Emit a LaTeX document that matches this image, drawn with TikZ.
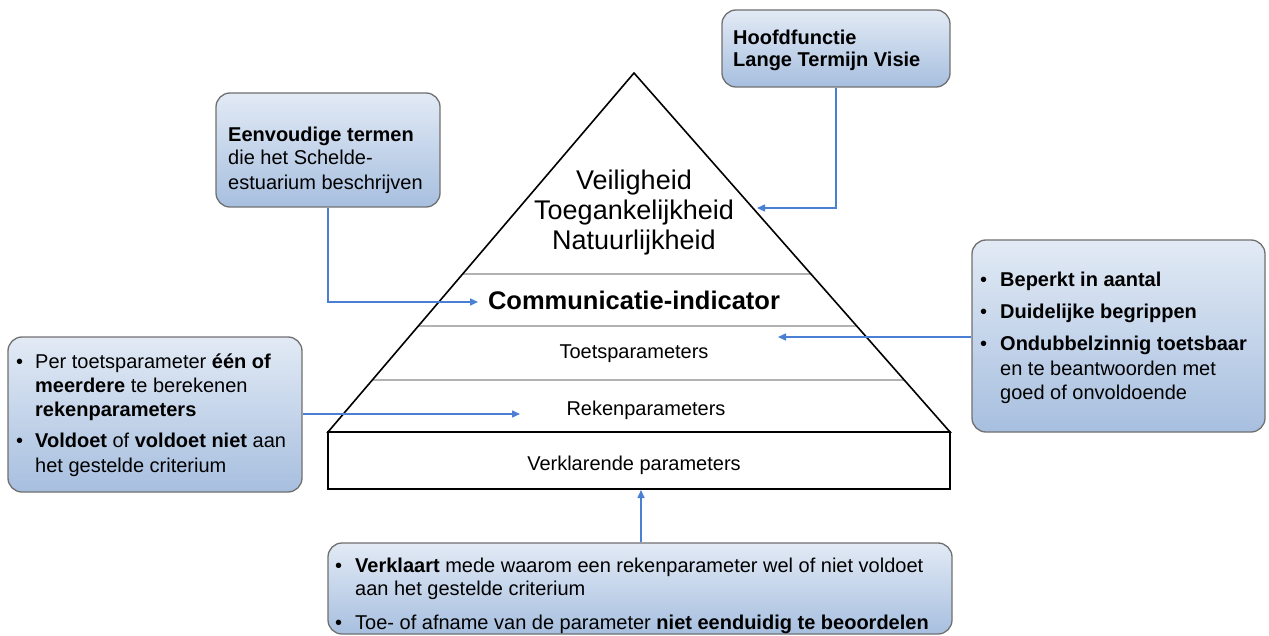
\documentclass[tikz,border=0pt]{standalone}
\usepackage{fontspec}
\setmainfont{Liberation Sans}
\usetikzlibrary{arrows.meta,calc}
\definecolor{boxtop}{HTML}{E2EAF5}
\definecolor{boxbot}{HTML}{A7BFDF}
\definecolor{boxline}{HTML}{707070}
\definecolor{arrowblue}{HTML}{4A7FD4}
\begin{document}
\begin{tikzpicture}[x=1pt,y=-1pt,
  box/.style={draw=boxline, rounded corners=14pt, top color=boxtop, bottom color=boxbot, line width=1.3pt, inner sep=0pt},
  conn/.style={draw=arrowblue, line width=1.5pt, -{Triangle[length=8pt,width=7pt]}},
  txt/.style={anchor=base west, inner sep=0pt, font=\fontsize{20}{24}\selectfont},
  ptxt/.style={anchor=center, inner sep=0pt, font=\fontsize{20}{24}\selectfont},
  sepline/.style={draw=gray!60, line width=1.3pt},
  outline/.style={draw=black, line width=1.6pt, line join=miter}]
\useasboundingbox (0,0) rectangle (1269,636);
\fill[white] (0,0) rectangle (1269,636);

% pyramid
\coordinate (A) at (634,73);
\coordinate (BL) at (328,432);
\coordinate (BR) at (950,432);
\draw[sepline] (462.7,274) -- (810.9,274);
\draw[sepline] (418.4,326) -- (856.7,326);
\draw[sepline] (372.3,380) -- (904.2,380);
\draw[outline] (BL) -- (A) -- (BR) -- cycle;
\draw[outline] (BL) rectangle (950,489);

\node[ptxt, font=\fontsize{27}{30}\selectfont] (v1) at (634,183) {Veiligheid};
\node[ptxt, font=\fontsize{27}{30}\selectfont] (v2) at (634,213) {Toegankelijkheid};
\node[ptxt, font=\fontsize{27}{30}\selectfont] (v3) at (634,243) {Natuurlijkheid};
\node[ptxt, font=\fontsize{25.5}{30}\selectfont\bfseries] (ci) at (634,300) {Communicatie-indicator};
\node[ptxt] (tp) at (634,354) {Toetsparameters};
\node[ptxt] (rp) at (646,410) {Rekenparameters};
\node[ptxt] (vp) at (634,465) {Verklarende parameters};

% boxes
\node[box, minimum width=228pt, minimum height=77pt] (hf) at (836,48.5) {};
\node[txt, font=\fontsize{20}{24}\selectfont\bfseries] (hf1) at (733,45) {Hoofdfunctie};
\node[txt, font=\fontsize{20}{24}\selectfont\bfseries] (hf2) at (733,67) {Lange Termijn Visie};

\node[box, minimum width=224pt, minimum height=114pt] (et) at (328,150) {};
\node[txt] (et1) at (228,142) {\textbf{Eenvoudige termen}};
\node[txt] (et2) at (228,165) {die het Schelde-};
\node[txt] (et3) at (228,190) {estuarium beschrijven};

\node[box, minimum width=293pt, minimum height=192pt] (rb) at (1118.5,336) {};
\node[txt] (rb0a) at (980,287) {•};
\node[txt] (rb1) at (1000,287) {\textbf{Beperkt in aantal}};
\node[txt] (rb0b) at (980,319) {•};
\node[txt] (rb2) at (1000,319) {\textbf{Duidelijke begrippen}};
\node[txt] (rb0c) at (980,350) {•};
\node[txt] (rb3) at (1000,350) {\textbf{Ondubbelzinnig toetsbaar}};
\node[txt] (rb4) at (1000,375) {en te beantwoorden met};
\node[txt] (rb5) at (1000,399) {goed of onvoldoende};

\node[box, minimum width=294pt, minimum height=155pt] (lb) at (155,414.5) {};
\node[txt] (lb0a) at (16,368) {•};
\node[txt] (lb1) at (35,368) {Per toetsparameter \textbf{één of}};
\node[txt] (lb2) at (35,392) {\textbf{meerdere} te berekenen};
\node[txt] (lb3) at (35,416) {\textbf{rekenparameters}};
\node[txt] (lb0b) at (16,447) {•};
\node[txt] (lb4) at (35,447) {\textbf{Voldoet} of \textbf{voldoet niet} aan};
\node[txt] (lb5) at (35,472) {het gestelde criterium};

\node[box, minimum width=624pt, minimum height=91pt] (bb) at (640,588.5) {};
\node[txt] (bb0a) at (335,572) {•};
\node[txt] (bb1) at (355,572) {\textbf{Verklaart} mede waarom een rekenparameter wel of niet voldoet};
\node[txt] (bb2) at (355,595) {aan het gestelde criterium};
\node[txt] (bb0b) at (335,629) {•};
\node[txt] (bb3) at (355,629) {Toe- of afname van de parameter \textbf{niet eenduidig te beoordelen}};

% connectors
\coordinate (tipA) at (757,208);
\coordinate (tipB) at (478,302);
\coordinate (tipC) at (778,337);
\coordinate (tipD) at (520,414);
\coordinate (tipE) at (641,490);
\draw[conn] (hf.south) |- (tipA);
\draw[conn] (et.south) |- (tipB);
\draw[conn] (rb.west |- tipC) -- (tipC);
\draw[conn] (lb.east |- tipD) -- (tipD);
\draw[conn] (bb.north -| tipE) -- (tipE);
\end{tikzpicture}
\end{document}
